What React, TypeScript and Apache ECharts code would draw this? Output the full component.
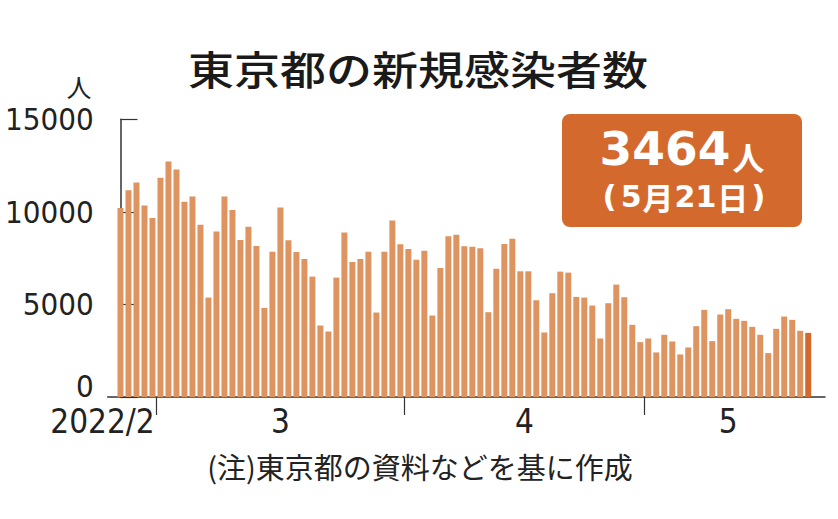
import React, { useEffect, useRef } from "react";
import * as echarts from "echarts";

// ---- data ----
const startYear = 2022;
const startMonth = 2; // February
const startDay = 24;
const cases = [
  10204, 11174, 11587, 10347, 9665,
  11838, 12719, 12287, 10545, 10832, 9305, 5371, 8946, 10832, 10096, 8479, 9198, 8156, 4814, 7850,
  10240, 8461, 7832, 7455, 6503, 3862, 3539, 6449, 8892, 7293, 7455, 7850, 4563, 7850, 9539, 8245,
  7994, 7419, 7904, 4401, 6970, 8677, 8766, 8138, 8120, 8030, 4581, 6934, 8263, 8551, 6790, 6790,
  5227, 3485, 5605, 6772, 6718, 5407, 5371, 4940, 3162, 5066, 6072, 5389, 3898, 2964,
  3162, 2407, 3359, 3000, 2299, 2677, 3826, 4707, 3018, 4455, 4743, 4222, 4114, 3790, 3359, 2371,
  3683, 4347, 4168, 3575, 3464,
];
const monthLabels = ["2022/2", "3", "4", "5"];
const yTickValues = [0, 5000, 10000, 15000];
const titleText = "東京都の新規感染者数";
const unitText = "人";
const noteText = "(注)東京都の資料などを基に作成";

const BAR = "#DE9461";
const DARK = "#D4692E";
const INK = "#222222";
const NARROW = "'Liberation Sans Narrow', 'DejaVu Sans Condensed', 'Roboto Condensed', sans-serif";
const CJK = "'Noto Sans CJK JP', 'Noto Sans', sans-serif";
const DJ = "'DejaVu Sans', sans-serif";

function monthSegments() {
  const segs: { start: number; end: number }[] = [];
  let prev = -1;
  for (let i = 0; i < cases.length; i++) {
    const d = new Date(startYear, startMonth - 1, startDay + i);
    const m = d.getMonth();
    if (m !== prev) {
      segs.push({ start: i, end: i });
      prev = m;
    } else {
      segs[segs.length - 1].end = i;
    }
  }
  return segs;
}

export default function App() {
  const ref = useRef<HTMLDivElement>(null);
  useEffect(() => {
    if (!ref.current) return;
    const chart = echarts.init(ref.current, null, { renderer: "svg" });
    const segs = monthSegments();
    const tickPos = segs.slice(1).map((s) => s.start - 0.5);
    const labelPos = segs.map((s) => (s.start + s.end) / 2);
    const last = cases.length - 1;
    const lastDate = new Date(startYear, startMonth - 1, startDay + last);
    const boxNum = String(cases[last]);
    const m = lastDate.getMonth() + 1;
    const d = lastDate.getDate();

    chart.setOption({
      animation: false,
      backgroundColor: "#ffffff",
      grid: { left: 107.7, right: 13, top: 119.3, bottom: 122, containLabel: false, outerBoundsMode: "none" },
      xAxis: {
        type: "value",
        min: -1.6,
        max: 88.1,
        splitLine: { show: false },
        axisLine: { show: true, onZero: false, lineStyle: { color: "#333", width: 1.5 } },
        axisTick: {
          show: true,
          customValues: tickPos,
          length: 18,
          lineStyle: { color: "#333", width: 1.2 },
        },
        axisLabel: {
          customValues: labelPos,
          margin: 8,
          color: INK,
          fontFamily: NARROW,
          fontSize: 33,
          formatter: (v: number) => {
            const idx = labelPos.findIndex((p) => Math.abs(p - v) < 0.01);
            if (idx < 0) return "";
            return idx === 0 ? `{first|${monthLabels[0]}}` : monthLabels[idx];
          },
          rich: {
            first: {
              fontFamily: NARROW,
              fontSize: 33,
              color: INK,
              padding: [0, 68, 0, 0],
            },
          },
        },
      },
      yAxis: {
        type: "value",
        min: yTickValues[0],
        max: yTickValues[yTickValues.length - 1],
        interval: yTickValues[1] - yTickValues[0],
        splitLine: { show: false },
        axisLine: { show: true, lineStyle: { color: "#333", width: 1.5 } },
        axisTick: { show: true, inside: true, length: 17, lineStyle: { color: "#333", width: 1.2 } },
        axisLabel: {
          margin: 14,
          color: INK,
          fontFamily: NARROW,
          fontSize: 31,
          formatter: (v: number) => (v === 0 ? `{zero|${v}}` : String(v)),
          rich: {
            zero: {
              fontFamily: NARROW,
              fontSize: 31,
              color: INK,
              lineHeight: 31,
              padding: [0, 0, 22, 0],
            },
          },
        },
      },
      series: [
        {
          type: "bar",
          barWidth: 6,
          itemStyle: { color: BAR },
          data: cases.map((v, i) =>
            i === last ? { value: [i, v], itemStyle: { color: DARK } } : { value: [i, v] }
          ),
        },
      ],
      graphic: [
        {
          type: "text",
          x: 418,
          y: 67,
          scaleX: 1.15,
          style: {
            text: titleText,
            fontFamily: CJK,
            fontSize: 40,
            fontWeight: 500,
            fill: "#1a1a1a",
            align: "center",
            verticalAlign: "middle",
          },
        },
        {
          type: "text",
          x: 79,
          y: 86,
          style: {
            text: unitText,
            fontFamily: CJK,
            fontSize: 25,
            fill: INK,
            align: "center",
            verticalAlign: "middle",
          },
        },
        {
          type: "text",
          x: 420,
          y: 466,
          style: {
            text: noteText,
            fontFamily: CJK,
            fontSize: 29,
            fill: INK,
            align: "center",
            verticalAlign: "middle",
          },
        },
        {
          type: "rect",
          shape: { x: 562, y: 114, width: 240, height: 113, r: 8 },
          style: { fill: DARK },
        },
        {
          type: "text",
          x: 682,
          y: 152,
          style: {
            text: `{n|${boxNum}}{u|${unitText}}`,
            align: "center",
            verticalAlign: "middle",
            rich: {
              n: { fontFamily: DJ, fontWeight: "bold", fontSize: 47, lineHeight: 40, fill: "#fff", verticalAlign: "bottom" },
              u: { fontFamily: CJK, fontWeight: "bold", fontSize: 32, lineHeight: 40, fill: "#fff", verticalAlign: "bottom", padding: [0, 0, 0, 2] },
            },
          },
        },
        {
          type: "text",
          x: 684,
          y: 196,
          style: {
            text: `{p|(}{d|${m}}{k|月}{d|${d}}{k|日}{p|)}`,
            align: "center",
            verticalAlign: "middle",
            rich: {
              p: { fontFamily: DJ, fontWeight: "bold", fontSize: 31, lineHeight: 30, fill: "#fff", padding: [0, 3, 0, 3] },
              d: { fontFamily: DJ, fontWeight: "bold", fontSize: 30, lineHeight: 30, fill: "#fff", padding: [0, 1, 0, 1] },
              k: { fontFamily: CJK, fontWeight: "bold", fontSize: 31, lineHeight: 30, fill: "#fff" },
            },
          },
        },
      ],
    });
    return () => chart.dispose();
  }, []);
  return (
    <div
      ref={ref}
      style={{ position: "absolute", left: 0, top: 0, width: 838, height: 519 }}
    />
  );
}
